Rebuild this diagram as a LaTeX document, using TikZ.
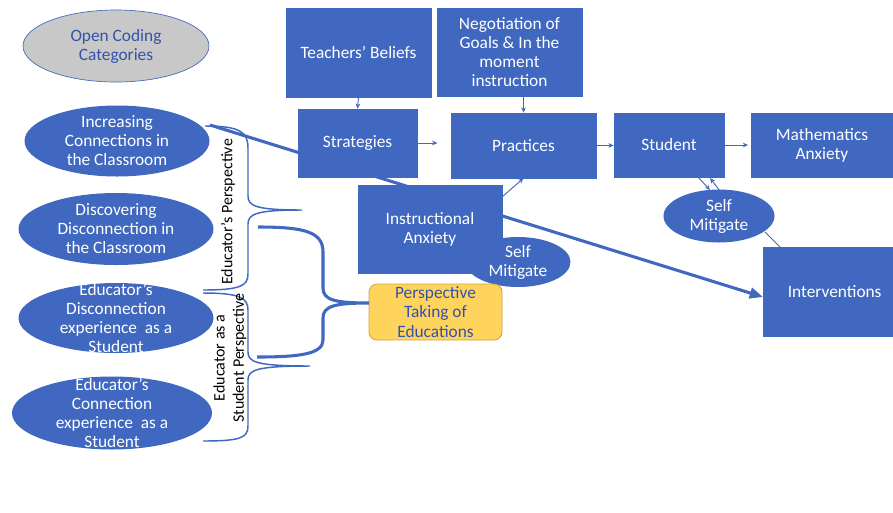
\documentclass[tikz,border=0pt]{standalone}
\usepackage{fontspec}
\setmainfont{Carlito}
\usetikzlibrary{arrows.meta,shapes.geometric,calc}
\definecolor{obl}{RGB}{64,104,192}
\definecolor{txtbl}{RGB}{52,82,172}
\definecolor{grayf}{RGB}{200,200,200}
\definecolor{yel}{RGB}{255,212,92}
\definecolor{yelb}{RGB}{205,165,60}
\begin{document}
\begin{tikzpicture}[x=0.75pt,y=-0.75pt,
  txt/.style={font=\fontsize{13}{14.3}\selectfont,align=center},
  box/.style={txt,fill=obl,draw=obl,inner sep=0pt,text=white},
  oval/.style={ellipse,fill=obl,inner sep=0pt},
  ovtxt/.style={txt,text=white},
  thinarr/.style={draw=obl,line width=0.7pt,-{Stealth[length=4pt,width=3.5pt]}},
  thinln/.style={draw=obl,line width=0.7pt},
  bracel/.style={draw=obl,line width=1.1pt},
  heavy/.style={draw=obl,line width=2.3pt},
  labtxt/.style={font=\fontsize{12}{14.5}\selectfont,align=center,rotate=90}]
\useasboundingbox[fill=white] (0,0) rectangle (893,512);

% long diagonal arrow (behind boxes)
\coordinate (d0) at (210,125);
\coordinate (d1) at (763,297);
\draw[heavy,-{Triangle[length=10pt,width=8pt]}] (d0) -- (d1);

% left ellipses
\node[ellipse,fill=grayf,draw=obl,line width=0.5pt,inner sep=0pt,minimum width=139.5pt,minimum height=54pt,
  label={[txt,text=txtbl]center:{Open Coding\\Categories}}] (occ) at (116,46) {};
\node[oval,minimum width=138.75pt,minimum height=53.25pt,
  label={[ovtxt]center:{Increasing\\Connections in\\the Classroom}}] (inc) at (117,141) {};
\node[oval,minimum width=146.25pt,minimum height=54pt,
  label={[ovtxt]center:{Discovering\\Disconnection in\\the Classroom}}] (dis) at (116,229) {};
\node[oval,minimum width=146.25pt,minimum height=52.5pt,
  label={[ovtxt]center:{Educator’s\\Disconnection\\experience~ as a\\Student}}] (edd) at (116,318) {};
\node[oval,minimum width=150pt,minimum height=54.75pt,
  label={[ovtxt]center:{Educator’s\\Connection\\experience~ as a\\Student}}] (edc) at (112,413) {};

% boxes
\node[box,minimum width=108.75pt,minimum height=66.75pt] (tb) at (358.5,52.5) {Teachers’ Beliefs};
\node[box,minimum width=108.75pt,minimum height=66pt] (neg) at (509.5,52) {Negotiation of\\Goals \& In the\\moment\\instruction};
\node[box,minimum width=89.25pt,minimum height=51pt] (str) at (357.5,143) {Strategies};
\node[box,minimum width=108.75pt,minimum height=48.75pt] (pra) at (523.5,145.5) {Practices};
\node[box,minimum width=108pt,minimum height=66pt] (ia) at (430,229) {Instructional\\Anxiety};
\node[box,minimum width=82.5pt,minimum height=48pt] (stu) at (669,145) {Student};
\node[box,minimum width=106.5pt,minimum height=48pt] (ma) at (822,145) {Mathematics\\Anxiety};
\node[box,minimum width=97.5pt,minimum height=66.75pt] (int) at (828,291.5) {\hspace*{10pt}Interventions};

% self mitigate ellipses
\node[oval,minimum width=78.75pt,minimum height=37.5pt,
  label={[ovtxt]center:{Self\\Mitigate}}] (sm1) at (518,262) {};
\node[oval,minimum width=83.25pt,minimum height=39.75pt,
  label={[ovtxt]center:{Self\\Mitigate}}] (sm2) at (719,216) {};

% perspective taking
\node[txt,text=txtbl,fill=yel,draw=yelb,line width=0.6pt,rounded corners=6pt,inner sep=0pt,
  minimum width=99.75pt,minimum height=42pt] (pt) at (435.5,312) {Perspective\\Taking of\\Educations};

% thin connectors
\draw[thinarr] (tb.south) -- (str.north);
\draw[thinarr] (neg.south -| pra.north) -- (pra.north);
\draw[thinarr,shorten >=10pt] (str.east) -- (str.east -| pra.west);
\draw[thinarr] (pra.east) -- (pra.east -| stu.west);
\draw[thinarr,shorten >=2pt] (stu.east) -- (stu.east -| ma.west);
\draw[thinarr] ($(ia.north east)+(0,12)$) -- (pra.south);
\coordinate (s1) at (698,177);
\coordinate (s2) at (710,190);
\coordinate (s3) at (720,191);
\coordinate (s4) at (710,178);
\draw[thinarr] (s1) -- (s2);
\draw[thinarr] (s3) -- (s4);
\coordinate (m1) at (765,232);
\coordinate (m2) at (780,247);
\draw[thinln] (m1) -- (m2);

% braces
\draw[bracel] (205,126) .. controls (240,126) and (248,132) .. (248,148) -- (248,196)
  .. controls (248,206) and (256,210) .. (302,210)
  .. controls (256,210) and (248,214) .. (248,224) -- (248,274)
  .. controls (248,286) and (240,290) .. (203,290);
\draw[bracel] (203,293) .. controls (240,293) and (248,298) .. (248,310) -- (248,352)
  .. controls (248,362) and (256,366) .. (310,366)
  .. controls (256,366) and (248,370) .. (248,380) -- (248,426)
  .. controls (248,438) and (240,441) .. (203,441);
\coordinate (bt) at (369,303);
\draw[heavy] (258,227) .. controls (305,227) and (323,232) .. (323,252) -- (323,288)
  .. controls (323,300) and (335,303) .. (bt)
  .. controls (335,303) and (323,306) .. (323,318) -- (323,340)
  .. controls (323,354) and (300,357) .. (257,357);

% brace labels
\node[labtxt] (lab1) at (228,212) {Educator’s Perspective};
\node[labtxt] (lab2) at (230,358) {Educator as a\\Student Perspective};
\end{tikzpicture}
\end{document}
